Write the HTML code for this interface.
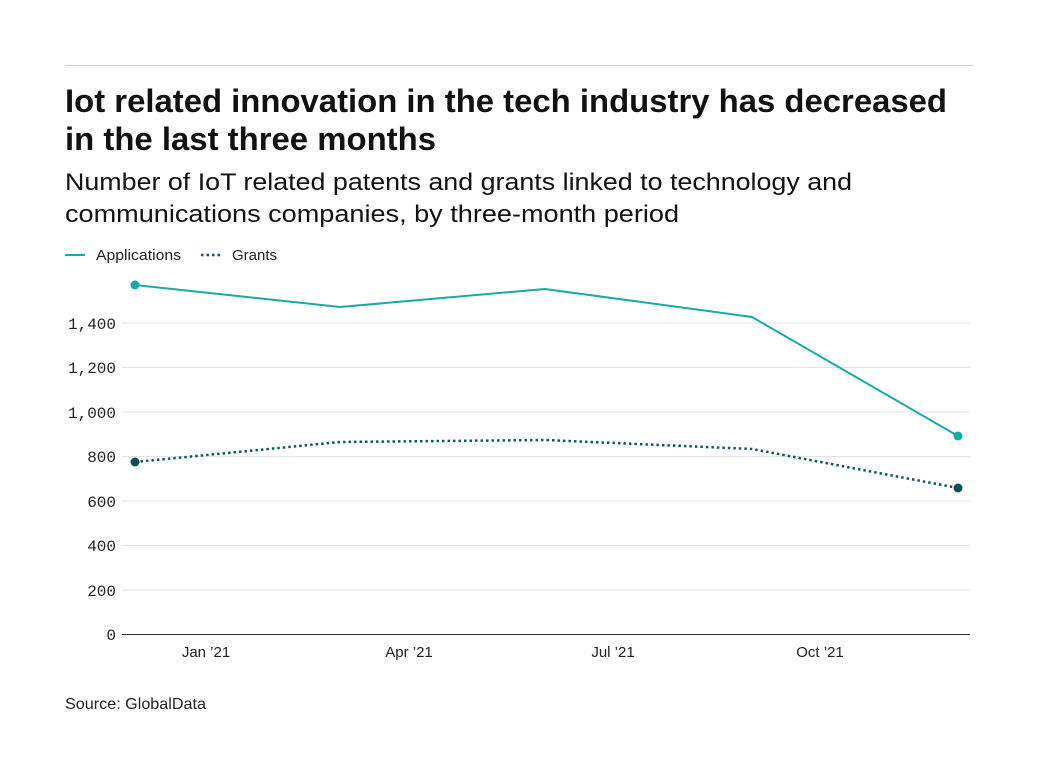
<!DOCTYPE html>
<html><head><style>
body{margin:0;background:#fff;width:1038px;height:778px;overflow:hidden;font-family:"Liberation Sans",sans-serif;color:#111;}
</style></head><body>
<svg width="1038" height="778" xmlns="http://www.w3.org/2000/svg" style="position:absolute;left:0;top:0">
<line x1="65" y1="65.5" x2="973" y2="65.5" stroke="#d0d0d0" stroke-width="1"/>
<text x="65" y="112" font-family="Liberation Sans, sans-serif" font-weight="bold" font-size="32" fill="#111" textLength="882" lengthAdjust="spacingAndGlyphs">Iot related innovation in the tech industry has decreased</text>
<text x="65" y="150" font-family="Liberation Sans, sans-serif" font-weight="bold" font-size="32" fill="#111" textLength="371" lengthAdjust="spacingAndGlyphs">in the last three months</text>
<text x="65" y="190" font-family="Liberation Sans, sans-serif" font-size="24" fill="#111" textLength="787" lengthAdjust="spacingAndGlyphs">Number of IoT related patents and grants linked to technology and</text>
<text x="65" y="222" font-family="Liberation Sans, sans-serif" font-size="24" fill="#111" textLength="614" lengthAdjust="spacingAndGlyphs">communications companies, by three-month period</text>
<line x1="65" y1="255" x2="85" y2="255" stroke="#1aa8a8" stroke-width="2"/>
<text x="96" y="260" font-size="15" fill="#222" textLength="85" lengthAdjust="spacingAndGlyphs">Applications</text>
<line x1="201" y1="255" x2="221" y2="255" stroke="#0b5a5a" stroke-width="2.5" stroke-dasharray="2.5,3"/>
<text x="232" y="260" font-size="15" fill="#222" textLength="45" lengthAdjust="spacingAndGlyphs">Grants</text>
<g stroke="#e3e3e3" stroke-width="1">
<line x1="122" y1="323" x2="970" y2="323"/><line x1="122" y1="367.5" x2="970" y2="367.5"/>
<line x1="122" y1="412" x2="970" y2="412"/><line x1="122" y1="456.5" x2="970" y2="456.5"/>
<line x1="122" y1="501" x2="970" y2="501"/><line x1="122" y1="545.5" x2="970" y2="545.5"/>
<line x1="122" y1="590" x2="970" y2="590"/>
</g>
<line x1="122" y1="634.5" x2="970" y2="634.5" stroke="#333" stroke-width="1"/>
<g font-family="Liberation Mono, monospace" font-size="16" fill="#222" text-anchor="end">
<text x="116" y="329">1,400</text><text x="116" y="373">1,200</text><text x="116" y="418">1,000</text>
<text x="116" y="462">800</text><text x="116" y="507">600</text><text x="116" y="551">400</text>
<text x="116" y="596">200</text><text x="116" y="640">0</text>
</g>
<g font-size="15" fill="#222" text-anchor="middle">
<text x="206" y="657">Jan ’21</text><text x="409" y="657">Apr ’21</text><text x="613" y="657">Jul ’21</text><text x="820" y="657">Oct ’21</text>
</g>
<polyline points="135,285 340,307 545,289 752,317 958,436" fill="none" stroke="#1aa8a8" stroke-width="2"/>
<polyline points="135,462 340,442 545,440 752,449 958,488" fill="none" stroke="#0b5a5a" stroke-width="2.5" stroke-dasharray="2.5,3"/>
<circle cx="135" cy="285" r="4.5" fill="#1aa8a8"/><circle cx="958" cy="436" r="4.5" fill="#1aa8a8"/>
<circle cx="135" cy="462" r="4.5" fill="#0b4f4f"/><circle cx="958" cy="488" r="4.5" fill="#0b4f4f"/>
<text x="65" y="709" font-size="16" fill="#222" textLength="141" lengthAdjust="spacingAndGlyphs">Source: GlobalData</text>
</svg>
</body></html>
